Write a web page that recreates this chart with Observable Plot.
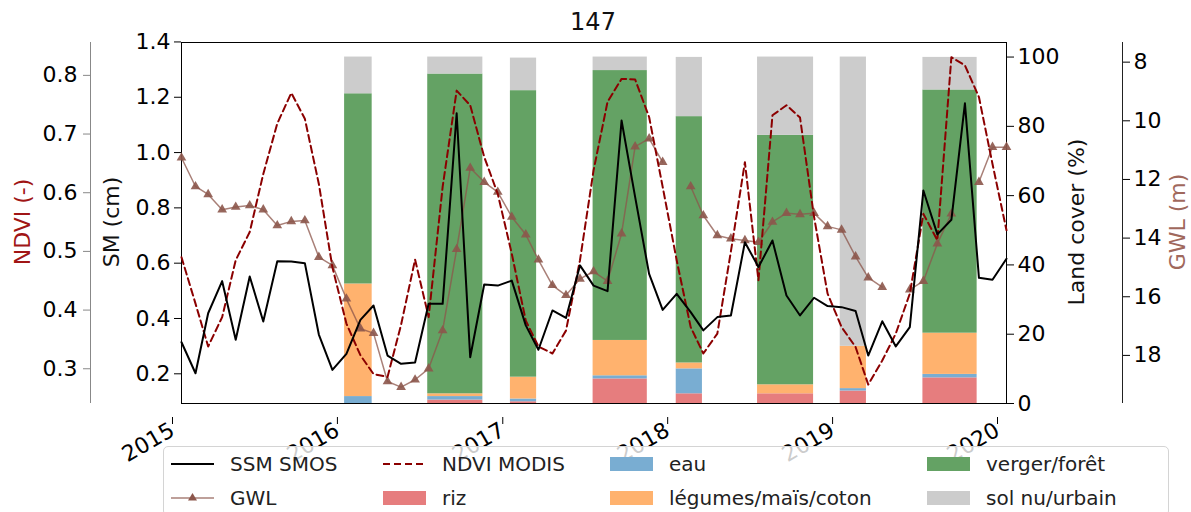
<!DOCTYPE html>
<html><head><meta charset="utf-8">
<script src="https://cdn.jsdelivr.net/npm/d3@7"></script>
<script src="https://cdn.jsdelivr.net/npm/@observablehq/plot@0.6"></script>
<style>
body{margin:0;background:#fff;font-family:"DejaVu Sans",sans-serif;}
#chart{position:relative;width:1191px;height:512px;overflow:hidden;background:#fff;}
#chart svg{position:absolute;left:0;top:0;}
.lab{position:absolute;white-space:nowrap;font-size:22px;line-height:1;transform:translate(-50%,-50%) rotate(-90deg);}
#title{position:absolute;left:593px;top:22px;transform:translate(-50%,-50%);font-size:24px;line-height:1;color:#111;}
#legend{position:absolute;left:163px;top:446px;width:1006px;height:70px;box-sizing:border-box;border:1px solid #d4d4d4;border-radius:5px;background:rgba(255,255,255,0.8);font-size:20px;color:#222;}
.item{position:absolute;display:flex;align-items:center;height:30px;transform:translateY(-50%);white-space:nowrap;}
.item svg{position:static !important;margin-right:16px;}
</style></head>
<body>
<div id="chart"></div>
<script>
// ---- data ----
const title = "147";
const years = [2015, 2016, 2017, 2018, 2019, 2020];
// monthly series, Jan 2015 .. Jan 2020
const ssm = [0.314,0.202,0.419,0.535,0.323,0.552,0.389,0.607,0.606,0.600,0.342,0.214,
  0.272,0.395,0.447,0.266,0.236,0.241,0.453,0.453,1.142,0.260,0.523,0.519,
  0.537,0.375,0.287,0.429,0.402,0.592,0.519,0.499,1.116,0.840,0.561,0.431,
  0.489,0.423,0.357,0.405,0.411,0.676,0.586,0.682,0.483,0.411,0.475,0.445,
  0.441,0.427,0.266,0.390,0.299,0.369,0.863,0.704,0.757,1.178,0.547,0.540,
  0.616];
const ndvi = [0.490,0.411,0.338,0.388,0.485,0.533,0.632,0.718,0.770,0.726,0.615,0.473,
  0.377,0.323,0.291,0.286,0.375,0.486,0.388,0.610,0.774,0.749,0.661,0.598,
  0.496,0.382,0.338,0.326,0.365,0.485,0.638,0.755,0.794,0.793,0.729,0.610,
  0.485,0.371,0.326,0.360,0.500,0.652,0.451,0.732,0.749,0.728,0.559,0.428,
  0.371,0.337,0.273,0.314,0.360,0.428,0.564,0.519,0.831,0.817,0.763,0.649,
  0.536];
const gwl = [11.26,12.24,12.51,13.03,12.94,12.89,13.03,13.57,13.43,13.40,14.65,14.93,
  16.07,17.09,17.24,18.89,19.08,18.83,18.45,17.15,14.38,11.61,12.09,12.43,
  13.28,13.88,14.74,15.61,15.95,15.39,15.14,15.47,13.85,10.88,10.61,11.41,
  null,12.24,13.23,13.91,14.02,14.08,14.14,13.45,13.15,13.19,13.15,13.60,
  13.72,14.63,15.35,15.67,null,15.76,15.47,14.19,13.17,null,12.09,10.90,
  10.90];
// land cover bars (%)
const barStart = ["2015-12-28","2016-06-29","2016-12-29","2017-06-30","2017-12-31","2018-06-29","2018-12-29","2019-06-30"];
const barEnd   = ["2016-02-27","2016-10-29","2017-02-25","2017-10-28","2018-02-27","2018-10-31","2019-02-25","2019-10-28"];
const classes = ["riz","eau","légumes/maïs/coton","verger/forêt","sol nu/urbain"];
const riz     = [0, 1.0, 0.5, 7.1, 2.8, 2.8, 3.6, 7.4];
const eau     = [2.0, 1.0, 0.8, 0.9, 7.2, 0, 0.7, 1.0];
const legumes = [32.5, 0.8, 6.3, 10.2, 1.7, 2.6, 12.2, 11.9];
const verger  = [54.9, 92.3, 82.7, 77.9, 71.1, 72.0, 0, 70.2];
const solnu   = [10.6, 4.9, 9.4, 3.9, 17.1, 22.6, 83.5, 9.4];
const classColors = ["#e67d7e","#79add2","#ffb26e","#64a264","#cccccc"];
const smTicks = [0.2,0.4,0.6,0.8,1.0,1.2,1.4];
const ndviTicks = [0.3,0.4,0.5,0.6,0.7,0.8];
const lcTicks = [0,20,40,60,80,100];
const gwlTicks = [8,10,12,14,16,18];

// ---- build tables ----
const dates = d3.utcMonth.range(new Date(Date.UTC(2015,0,1)), new Date(Date.UTC(2020,0,2)));
const rows = dates.map((d,i)=>({date:d, ssm:ssm[i], ndvi:ndvi[i], gwl:gwl[i]}));
const classVals = [riz, eau, legumes, verger, solnu];
const barRows = [];
barStart.forEach((s,i)=>{
  let acc = 0;
  classes.forEach((c,k)=>{
    const v = classVals[k][i];
    if (v > 0) barRows.push({start:new Date(s), end:new Date(barEnd[i]), cls:c, y1:acc, y2:acc+v});
    acc += v;
  });
});

// ---- layout ----
const W = 1191, H = 512, mt = 42, mb = 109, ml = 181, mr = 185;
const font = {fontFamily:"DejaVu Sans", fontSize:"22px", color:"black", overflow:"visible"};
const common = {width:W, height:H, marginTop:mt, marginBottom:mb, marginLeft:ml, marginRight:mr,
  style:{...font, background:"transparent"}};
const xs = {type:"utc", domain:[new Date(Date.UTC(years[0],0,1)), new Date(Date.UTC(years[years.length-1],0,1))]};
const chart = document.getElementById("chart");

// bars + frame + x axis + land cover axis
chart.append(Plot.plot({...common, style:{...font, background:"white"},
  x: xs,
  y: {domain:[0,104.2]},
  color: {domain:classes, range:classColors},
  marks: [
    Plot.rect(barRows, {x1:"start", x2:"end", y1:"y1", y2:"y2", fill:"cls"}),
    Plot.frame({stroke:"black"}),
    Plot.axisX({ticks: years.map(y=>new Date(Date.UTC(y,0,1))), tickFormat:d3.utcFormat("%Y"),
      tickRotate:-30, tickSize:7, tickPadding:4, fontSize:22, label:null, dx:-9, dy:14}),
    Plot.axisY({anchor:"right", ticks:lcTicks, tickSize:7, tickPadding:4, fontSize:22, label:null})
  ]
}));
// GWL line
chart.append(Plot.plot({...common, x:{...xs, axis:null}, y:{domain:[7.33,19.64], reverse:true, axis:null},
  marks:[
    Plot.line(rows, {x:"date", y:"gwl", stroke:"#8c564b", strokeOpacity:0.75, strokeWidth:1.5}),
    Plot.dot(rows, {x:"date", y:"gwl", symbol:"triangle", r:3.6, fill:"#8c564b", fillOpacity:0.9})
  ]}));
// NDVI line
chart.append(Plot.plot({...common, x:{...xs, axis:null}, y:{domain:[0.2408,0.856], axis:null},
  marks:[
    Plot.line(rows, {x:"date", y:"ndvi", stroke:"#8b0000", strokeWidth:2, strokeDasharray:"7,4"})
  ]}));
// SSM line + SM axis
chart.append(Plot.plot({...common, x:{...xs, axis:null}, y:{domain:[0.0926,1.398]},
  marks:[
    Plot.line(rows, {x:"date", y:"ssm", stroke:"black", strokeWidth:2}),
    Plot.axisY({anchor:"left", ticks:smTicks, tickFormat:d3.format(".1f"), tickSize:7, tickPadding:4, fontSize:22, label:null})
  ]}));
// NDVI axis (outer left)
chart.append(Plot.plot({width:W, height:H, marginTop:mt, marginBottom:mb, marginLeft:90, marginRight:W-91,
  style:{...font, background:"transparent"},
  x:{domain:[0,1], axis:null}, y:{domain:[0.2408,0.856]},
  marks:[
    Plot.ruleX([0], {stroke:"#888"}),
    Plot.axisY({anchor:"left", ticks:ndviTicks, tickFormat:d3.format(".1f"), tickSize:7, tickPadding:6, fontSize:22, label:null, stroke:"#888"})
  ]}));
// GWL axis (outer right)
chart.append(Plot.plot({width:W, height:H, marginTop:mt, marginBottom:mb, marginLeft:1121, marginRight:W-1122,
  style:{...font, background:"transparent"},
  x:{domain:[0,1], axis:null}, y:{domain:[7.33,19.64], reverse:true},
  marks:[
    Plot.ruleX([1], {stroke:"#222"}),
    Plot.axisY({anchor:"right", ticks:gwlTicks, tickSize:7, tickPadding:4, fontSize:22, label:null})
  ]}));

// title and axis labels
function addDiv(cls, text, x, y, color){
  const d = document.createElement("div");
  d.className = cls; d.textContent = text;
  d.style.left = x + "px"; d.style.top = y + "px";
  if (color) d.style.color = color;
  chart.append(d); return d;
}
const t = addDiv("", title, 593, 22); t.id = "title";
addDiv("lab", "NDVI (-)", 23, 222, "#a01515");
addDiv("lab", "SM (cm)", 112, 222, "#111");
addDiv("lab", "Land cover (%)", 1077, 222, "#111");
addDiv("lab", "GWL (m)", 1178, 222, "#a0685c");

// legend
const legend = document.createElement("div"); legend.id = "legend"; chart.append(legend);
const sym = {
  line: '<svg width="43" height="16"><line x1="0" y1="8" x2="43" y2="8" stroke="black" stroke-width="2"/></svg>',
  gwl: '<svg width="43" height="16"><line x1="0" y1="8" x2="43" y2="8" stroke="#8c564b" stroke-opacity="0.75" stroke-width="1.5"/><path d="M21.5,3 L26,10.5 L17,10.5 Z" fill="#8c564b"/></svg>',
  dash: '<svg width="43" height="16"><line x1="0" y1="8" x2="43" y2="8" stroke="#8b0000" stroke-width="2" stroke-dasharray="7,4"/></svg>',
  patch: c => `<svg width="43" height="16"><rect x="0" y="1" width="43" height="14" fill="${c}"/></svg>`
};
const legendItems = [
  [7,17,sym.line,"SSM SMOS"],[7,51,sym.gwl,"GWL"],
  [219,17,sym.dash,"NDVI MODIS"],[219,51,sym.patch(classColors[0]),classes[0]],
  [446,17,sym.patch(classColors[1]),classes[1]],[446,51,sym.patch(classColors[2]),classes[2]],
  [763,17,sym.patch(classColors[3]),classes[3]],[763,51,sym.patch(classColors[4]),classes[4]]
];
legendItems.forEach(([x,y,s,txt])=>{
  const it = document.createElement("div"); it.className="item";
  it.style.left = x+"px"; it.style.top = y+"px";
  it.innerHTML = s + "<span>" + txt + "</span>";
  legend.append(it);
});
</script>
</body></html>
